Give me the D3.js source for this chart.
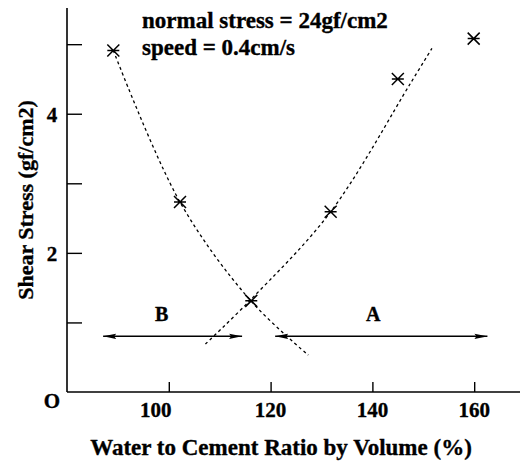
<!DOCTYPE html>
<html><head><meta charset="utf-8">
<script src="https://cdn.jsdelivr.net/npm/d3@7/dist/d3.min.js"></script>
<style>body{margin:0;background:#fff}svg{display:block}text{font-family:"Liberation Serif","Times New Roman",serif;font-weight:bold;fill:#000;stroke:#000;stroke-width:0.35px}</style>
</head><body><svg id="c" width="524" height="463"></svg>
<script>
// measured points (water/cement ratio %, shear stress gf/cm2)
const ratio = [89.1, 102.2, 116.2, 131.8, 145.0, 159.9];
const shear = [4.91, 2.73, 1.31, 2.59, 4.50, 5.08];
// hand-drawn trend curves
const curveBx = [89.1, 102.2, 116.0, 127.4];
const curveBy = [4.91, 2.73, 1.32, 0.53];
const curveAx = [107.2, 116.0, 131.8, 147.5, 151.7];
const curveAy = [0.69, 1.32, 2.59, 4.44, 4.94];
// regions
const regionNames = ["B", "A"];
const regionFrom = [87.1, 120.9];
const regionTo = [114.4, 162.6];
const regionLevel = 0.80;
const xTicks = [100, 120, 140, 160];
const xTickLabels = ["100", "120", "140", "160"];
const yTicks = [0, 1, 2, 3, 4, 5];
const yTickLabels = ["O", "", "2", "", "4", ""];
const notes = ["normal stress = 24gf/cm2", "speed = 0.4cm/s"];

const svg = d3.select("#c");
const x = d3.scaleLinear().domain([80, 169]).range([67, 520]);
const y = d3.scaleLinear().domain([0, 5.52]).range([392, 8]);

svg.append("defs").append("marker").attr("id","ah").attr("viewBox","0 0 13 6")
  .attr("refX",13).attr("refY",3).attr("markerWidth",13).attr("markerHeight",6)
  .attr("markerUnits","userSpaceOnUse").attr("orient","auto-start-reverse")
  .append("path").attr("d","M0,0.4L13,3L0,5.6L2,3Z").attr("fill","#000");

// axes
const gx = svg.append("g").attr("transform","translate(0,392)")
  .call(d3.axisTop(x).tickValues(xTicks).tickSize(10).tickFormat(""));
const gy = svg.append("g").attr("transform","translate(67,0)")
  .call(d3.axisRight(y).tickValues(yTicks.slice(1)).tickSize(15).tickFormat(""));
[gx, gy].forEach(g => { g.select(".domain").attr("stroke","#000").attr("stroke-width",1.6);
  g.selectAll(".tick line").attr("stroke","#000").attr("stroke-width",1.4); });
gx.select(".domain").attr("d","M67,0H520");
gy.select(".domain").attr("d","M0,8V392");

// tick labels
svg.append("g").selectAll("text").data(xTicks).join("text")
  .attr("x",(d,i)=>x(d) - (i===0?13:0)).attr("y",416.5).attr("text-anchor","middle")
  .style("font-size","21px").text((d,i)=>xTickLabels[i]);
svg.append("g").selectAll("text").data(yTicks.filter((d,i)=>yTickLabels[i]!=="")).join("text")
  .attr("x",52).attr("y",d=> d===0 ? 408 : y(d)+8).attr("text-anchor","middle")
  .style("font-size","21px").text(d=>yTickLabels[yTicks.indexOf(d)]);

// titles
svg.append("text").attr("x",281).attr("y",455).attr("text-anchor","middle")
  .style("font-size","23px").text("Water to Cement Ratio by Volume (%)");
svg.append("text").attr("transform","translate(33,200) rotate(-90)").attr("text-anchor","middle")
  .style("font-size","22px").text("Shear Stress (gf/cm2)");

// notes
svg.append("g").selectAll("text").data(notes).join("text")
  .attr("x",142).attr("y",(d,i)=>28+i*27).style("font-size","23px").text(d=>d);

// trend curves
const line = d3.line().x(d=>x(d[0])).y(d=>y(d[1])).curve(d3.curveCatmullRom);
[[curveBx,curveBy],[curveAx,curveAy]].forEach(([cx,cy])=>{
  svg.append("path").datum(cx.map((v,i)=>[v,cy[i]])).attr("d",line)
    .attr("fill","none").attr("stroke","#000").attr("stroke-width",1.3).attr("stroke-dasharray","3,3");
});

// region arrows
regionNames.forEach((n,i)=>{
  svg.append("line").attr("x1",x(regionFrom[i])).attr("x2",x(regionTo[i]))
    .attr("y1",y(regionLevel)).attr("y2",y(regionLevel)).attr("stroke","#000").attr("stroke-width",1.5)
    .attr("marker-start","url(#ah)").attr("marker-end","url(#ah)");
  svg.append("text").attr("x",i===0?161.7:373.3).attr("y",321).attr("text-anchor","middle")
    .style("font-size","20px").text(n);
});

// markers
const s = 6;
const mk = svg.append("g").selectAll("g").data(ratio.map((v,i)=>[v,shear[i]])).join("g")
  .attr("transform",d=>`translate(${x(d[0])},${y(d[1])})`);
mk.append("path").attr("d",`M${-s},${-s}L${s},${s}M${-s},${s}L${s},${-s}M${-s},0H${s}`)
  .attr("stroke","#000").attr("stroke-width",1.5).attr("fill","none");
</script></body></html>
